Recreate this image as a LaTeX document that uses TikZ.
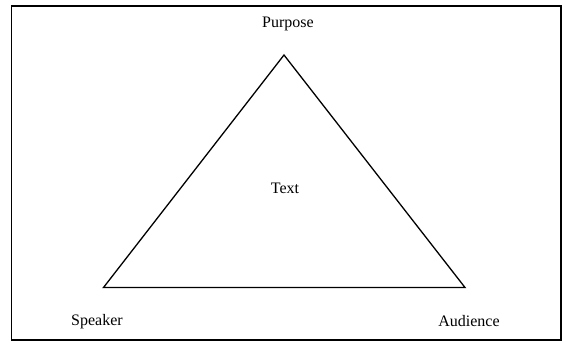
\documentclass[tikz,border=0pt]{standalone}
\usepackage{fontspec}
\setmainfont{Liberation Serif}
\begin{document}
\begin{tikzpicture}[x=1pt,y=-1pt,
  lbl/.style={font=\fontsize{16}{18}\selectfont, inner sep=0pt},
  edge/.style={draw=black, line width=1.3pt, line join=miter}]
\useasboundingbox (0,0) rectangle (566,343);
\draw[line width=1.3pt] (11.5,6) rectangle (561,340);
\coordinate (A) at (284,55);
\coordinate (B) at (103.5,287.5);
\coordinate (C) at (465,287.5);
\draw[edge] (A) -- (B) -- (C) -- cycle;
\node[lbl] (purpose) at (288,23.5) {Purpose};
\node[lbl] (text) at (285,188) {Text};
\node[lbl] (speaker) at (97,321.5) {Speaker};
\node[lbl] (audience) at (469,321.5) {Audience};
\end{tikzpicture}
\end{document}
